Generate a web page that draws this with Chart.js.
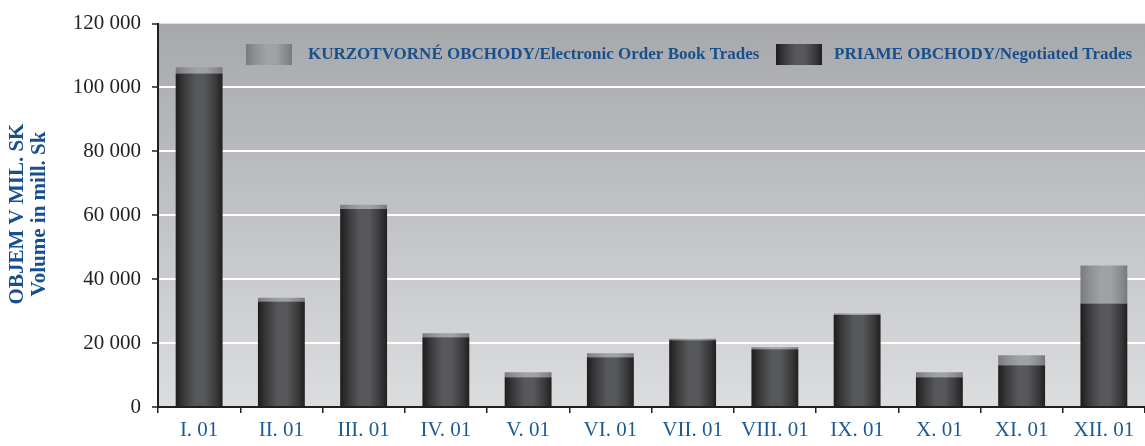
<!DOCTYPE html>
<html>
<head>
<meta charset="utf-8">
<script src="https://cdn.jsdelivr.net/npm/chart.js@4/dist/chart.umd.min.js"></script>
<style>
  html, body { margin: 0; padding: 0; background: #ffffff; }
  #wrap { width: 1145px; height: 446px; position: relative; }
</style>
</head>
<body>
<div id="wrap"><canvas id="volume-chart"></canvas></div>
<script>
// Monthly trading volume, mill. Sk
const months = ['I. 01', 'II. 01', 'III. 01', 'IV. 01', 'V. 01', 'VI. 01',
                'VII. 01', 'VIII. 01', 'IX. 01', 'X. 01', 'XI. 01', 'XII. 01'];
const negotiated = [104400, 33000, 62000, 21800, 9350, 15600, 20900, 18100, 28800, 9350, 13100, 32400];
const electronic = [1900, 1200, 1300, 1300, 1550, 1200, 500, 600, 500, 1550, 3100, 11900];
const yTicks = [0, 20000, 40000, 60000, 80000, 100000, 120000];

const labelNegotiated = 'PRIAME OBCHODY/Negotiated Trades';
const labelElectronic = 'KURZOTVORNÉ OBCHODY/Electronic Order Book Trades';
const axisTitle = ['OBJEM V MIL. SK', 'Volume in mill. Sk'];

const darkStops = [[0, '#1e1c1d'], [0.18, '#3a3a3c'], [0.42, '#57585a'], [0.62, '#57585a'], [0.85, '#3a3a3c'], [1, '#211f20']];
const lightStops = [[0, '#7a7b7e'], [0.2, '#8f9093'], [0.45, '#a0a2a5'], [0.65, '#9fa1a4'], [0.88, '#88898c'], [1, '#78797c']];

const BLUE = '#17508c';
const INK = '#231f20';

function fmt(v) {
  return String(v).replace(/\B(?=(\d{3})+(?!\d))/g, ' ');
}

function barFill(stops) {
  return (ctx) => {
    const chart = ctx.chart;
    if (!chart.chartArea || ctx.dataIndex === undefined) return stops[2][1];
    const xs = chart.scales.x;
    const cx = xs.getPixelForValue(ctx.dataIndex);
    const w = xs.width / months.length * 0.57;
    const g = chart.ctx.createLinearGradient(cx - w / 2, 0, cx + w / 2, 0);
    stops.forEach(s => g.addColorStop(s[0], s[1]));
    return g;
  };
}

// plot background + legend + rotated axis title
const decor = {
  id: 'decor',
  beforeDraw(chart) {
    const { ctx, chartArea: a } = chart;
    const g = ctx.createLinearGradient(0, a.top, 0, a.bottom);
    g.addColorStop(0, '#a6a8ab');
    g.addColorStop(1, '#dcdddf');
    ctx.save();
    ctx.fillStyle = g;
    ctx.fillRect(a.left, a.top, a.right - a.left, a.bottom - a.top);
    ctx.restore();
  },
  afterDraw(chart) {
    const ctx = chart.ctx;
    ctx.save();

    // legend
    const items = [
      { x: 246, tx: 308, text: labelElectronic, stops: lightStops },
      { x: 776, tx: 834, text: labelNegotiated, stops: darkStops }
    ];
    ctx.font = 'bold 17px "Liberation Serif"';
    ctx.textBaseline = 'middle';
    items.forEach(it => {
      const g = ctx.createLinearGradient(it.x, 0, it.x + 46, 0);
      it.stops.forEach(s => g.addColorStop(s[0], s[1]));
      ctx.fillStyle = g;
      ctx.fillRect(it.x, 44, 46, 21);
      ctx.fillStyle = BLUE;
      ctx.textAlign = 'left';
      ctx.fillText(it.text, it.tx, 55);
    });

    // y axis title
    ctx.translate(0, 214);
    ctx.rotate(-Math.PI / 2);
    ctx.textAlign = 'center';
    ctx.fillStyle = BLUE;
    ctx.font = 'bold 21px "Liberation Serif"';
    ctx.fillText(axisTitle[0], 0, 18);
    ctx.fillText(axisTitle[1], 0, 40);
    ctx.restore();
  }
};

new Chart(document.getElementById('volume-chart'), {
  type: 'bar',
  data: {
    labels: months,
    datasets: [
      {
        label: labelNegotiated,
        data: negotiated,
        backgroundColor: barFill(darkStops),
        borderWidth: 0
      },
      {
        label: labelElectronic,
        data: electronic,
        backgroundColor: barFill(lightStops),
        borderWidth: 0
      }
    ]
  },
  options: {
    responsive: true,
    maintainAspectRatio: false,
    animation: false,
    categoryPercentage: 1,
    barPercentage: 0.57,
    layout: { padding: { top: 22, right: 0, left: 0, bottom: 0 } },
    plugins: {
      legend: { display: false },
      tooltip: { enabled: false }
    },
    scales: {
      x: {
        stacked: true,
        grid: {
          offset: true,
          drawOnChartArea: false,
          color: INK,
          tickLength: 6,
          lineWidth: 1.5
        },
        border: { color: INK, width: 2 },
        ticks: {
          color: '#1d5a93',
          padding: 5,
          font: { family: 'Liberation Serif', size: 21 }
        },
        afterFit(scale) { scale.height = 39; }
      },
      y: {
        stacked: true,
        min: 0,
        max: 120000,
        afterBuildTicks(scale) { scale.ticks = yTicks.map(v => ({ value: v })); },
        grid: {
          color: (c) => (c.tick && c.tick.value > 0 && c.tick.value < 120000) ? '#ffffff' : 'rgba(0,0,0,0)',
          lineWidth: 2,
          tickColor: INK,
          tickLength: 6,
          tickWidth: 1.5
        },
        border: { color: INK, width: 2 },
        ticks: {
          color: INK,
          padding: 11,
          font: { family: 'Liberation Serif', size: 21 },
          callback: (v) => fmt(v)
        },
        afterFit(scale) { scale.width = 158; }
      }
    }
  },
  plugins: [decor]
});
</script>
</body>
</html>
